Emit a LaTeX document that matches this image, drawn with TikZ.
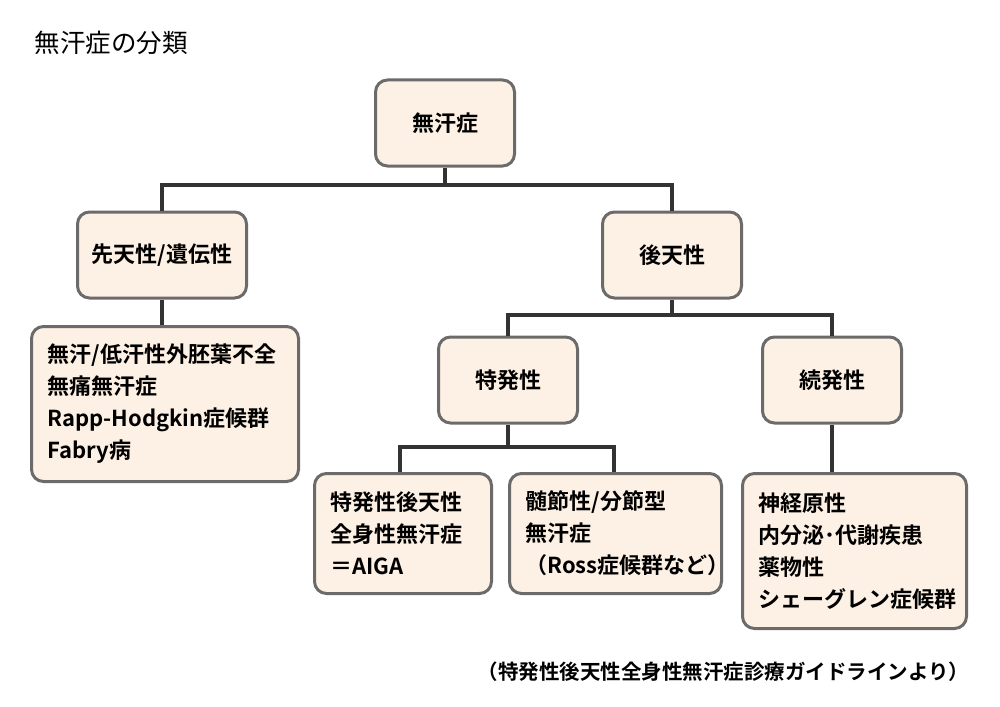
\documentclass[tikz,border=0pt]{standalone}
\usepackage{fontspec}
\setmainfont{Noto Sans CJK JP}[BoldFont={Noto Sans CJK JP Bold}]
\definecolor{boxfill}{HTML}{FDF0E4}
\definecolor{boxline}{HTML}{6B6B6B}
\definecolor{treeline}{HTML}{333333}
\tikzset{
  box/.style={draw=boxline, line width=3pt, fill=boxfill, rounded corners=12pt,
    font=\bfseries\fontsize{22}{32}\selectfont, inner sep=0pt},
  catbox/.style={box, minimum width=139pt, minimum height=86pt},
  listbox/.style={box, anchor=north west, align=left, inner xsep=16pt},
  branch/.style={draw=treeline, line width=4pt},
}
\begin{document}
\begin{tikzpicture}[x=1pt,y=-1pt]
  \useasboundingbox (0,0) rectangle (1000,706);
  % title and source
  \node[anchor=west, font=\fontsize{25.5}{30}\selectfont] (title) at (31,43) {無汗症の分類};
  \node[anchor=east, font=\bfseries\fontsize{20.5}{24}\selectfont] (source) at (973,672) {（特発性後天性全身性無汗症診療ガイドラインより）};
  % boxes
  \node[catbox] (root) at (445,123) {無汗症};
  \node[catbox, minimum width=169pt] (congenital) at (162,255) {先天性/遺伝性};
  \node[catbox] (acquired) at (672,255) {後天性};
  \node[catbox] (idiopathic) at (508,380) {特発性};
  \node[catbox] (secondary) at (832,380) {続発性};
  \node[listbox, text width=235pt, minimum height=155pt] (hered) at (30,325)
    {無汗/低汗性外胚葉不全\\無痛無汗症\\Rapp-Hodgkin症候群\\Fabry病};
  \node[listbox, text width=145pt, minimum height=120pt] (aiga) at (313,472)
    {特発性後天性\\全身性無汗症\\＝AIGA};
  \node[listbox, text width=180pt, minimum height=120pt] (segment) at (508,472)
    {髄節性/分節型\\無汗症\\（Ross症候群など）};
  \node[listbox, text width=192pt, minimum height=155pt] (causes) at (741,472)
    {神経原性\\内分泌･代謝疾患\\薬物性\\シェーグレン症候群};
  % junctions
  \coordinate (j1) at (445,185);
  \coordinate (j2) at (672,315);
  \coordinate (j3) at (508,447);
  % connectors
  \draw[branch] (root.south) -- (j1);
  \draw[branch] (congenital.north) |- (j1) -| (acquired.north);
  \draw[branch] (congenital.south) -- (congenital.south |- hered.north);
  \draw[branch] (acquired.south) -- (j2);
  \draw[branch] (idiopathic.north) |- (j2) -| (secondary.north);
  \draw[branch] (secondary.south) -- (secondary.south |- causes.north);
  \draw[branch] (idiopathic.south) -- (j3);
  \draw[branch] (j3) -| (aiga.north -| 400,0);
  \draw[branch] (j3) -| (segment.north -| 614,0);
\end{tikzpicture}
\end{document}
